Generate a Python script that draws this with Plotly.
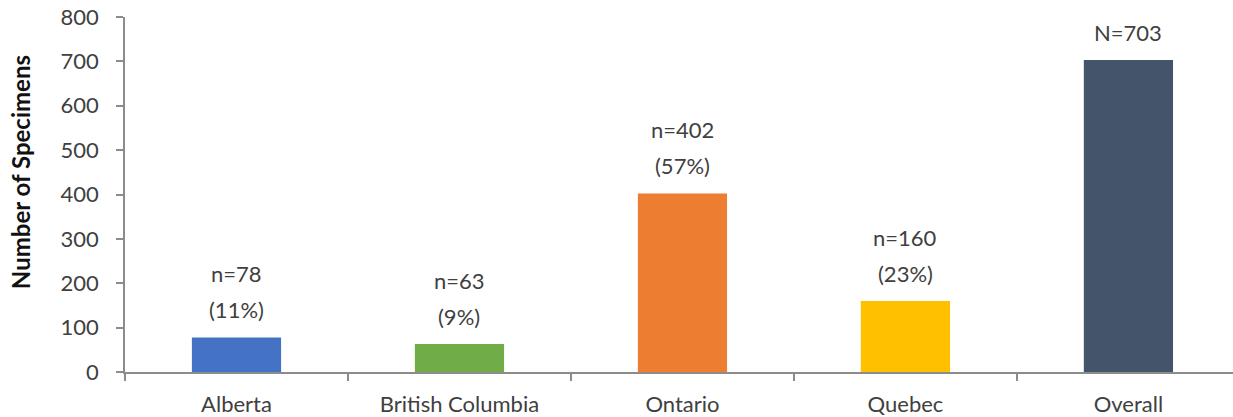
import plotly.graph_objects as go

categories = ["Alberta", "British Columbia", "Ontario", "Quebec", "Overall"]
specimens = [78, 63, 402, 160, 703]
count_labels = ["n=78", "n=63", "n=402", "n=160", ""]
pct_labels = ["(11%)", "(9%)", "(57%)", "(23%)", "N=703"]
colors = ["#4472C4", "#70AD47", "#ED7D31", "#FFC000", "#44546A"]
y_ticks = [0, 100, 200, 300, 400, 500, 600, 700, 800]

FONT = "Lato"
TXT = "#404040"
AX = "#8C8C8C"
FS = 22

fig = go.Figure(
    go.Bar(
        x=categories,
        y=specimens,
        marker=dict(color=colors, line=dict(width=0)),
        width=0.4,
        hoverinfo="skip",
    )
)

for c, v, n_lab, p_lab in zip(categories, specimens, count_labels, pct_labels):
    fig.add_annotation(x=c, y=v, text=p_lab, showarrow=False, yanchor="middle",
                       yshift=28, font=dict(family=FONT, size=FS, color=TXT))
    if n_lab:
        fig.add_annotation(x=c, y=v, text=n_lab, showarrow=False, yanchor="middle",
                           yshift=64, font=dict(family=FONT, size=FS, color=TXT))

fig.add_annotation(
    xref="paper", yref="paper", x=0, y=0.563, xshift=-105,
    text="<b>Number of Specimens</b>", textangle=-90, showarrow=False,
    xanchor="center", yanchor="middle",
    font=dict(family=FONT, size=24, color="#111111"),
)

fig.update_layout(
    width=1233, height=417,
    margin=dict(l=125, r=0, t=17, b=45),
    plot_bgcolor="white", paper_bgcolor="white",
    showlegend=False,
    font=dict(family=FONT, color=TXT),
)
fig.update_xaxes(
    type="category",
    range=[-0.5, 4.469],
    showline=True, linecolor=AX, linewidth=1.5,
    ticks="outside", tickson="boundaries", ticklen=7, tickcolor=AX, tickwidth=1.5,
    showgrid=False, zeroline=False,
    tickfont=dict(family=FONT, size=FS, color=TXT),
    ticklabelstandoff=12,
)
fig.update_yaxes(
    range=[0, 800],
    tickvals=y_ticks,
    showline=True, linecolor=AX, linewidth=1.5,
    ticks="outside", ticklen=7, tickcolor=AX, tickwidth=1.5,
    showgrid=False, zeroline=False,
    tickfont=dict(family=FONT, size=FS, color=TXT),
    ticklabelstandoff=13,
)

fig.write_html(
    "out.html",
    config={"displayModeBar": False},
    post_script="document.body.style.margin='0';document.body.style.overflow='hidden';",
)
